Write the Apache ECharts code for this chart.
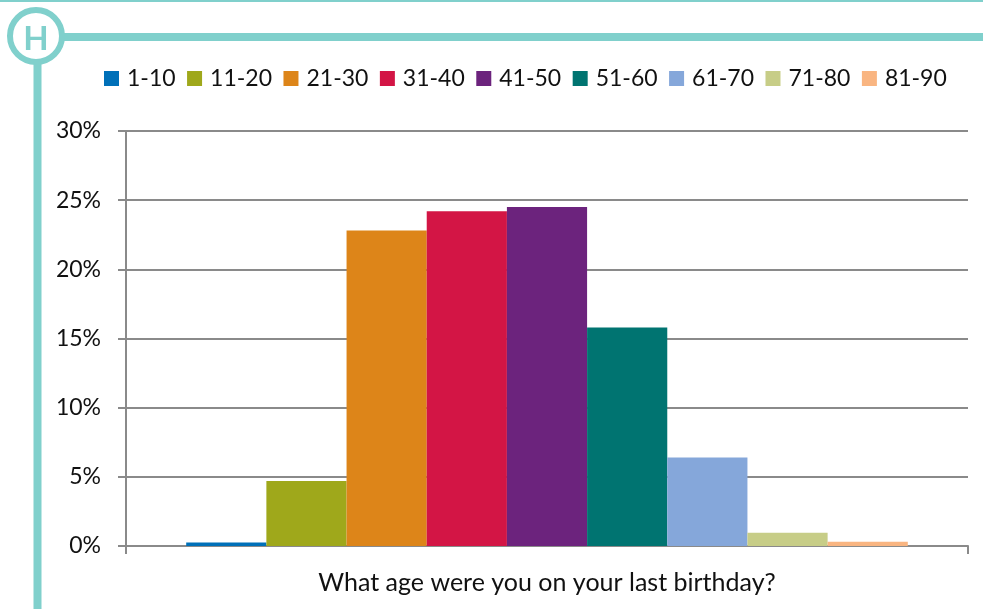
<!DOCTYPE html>
<html>
<head>
<meta charset="utf-8">
<script src="https://cdn.jsdelivr.net/npm/echarts@6/dist/echarts.min.js"></script>
<style>
html,body{margin:0;padding:0;background:#fff;}
#c{width:983px;height:609px;}
</style>
</head>
<body>
<div id="c"></div>
<script>
const ageGroups = ['1-10','11-20','21-30','31-40','41-50','51-60','61-70','71-80','81-90'];
const shares = [0.25, 4.7, 22.8, 24.2, 24.5, 15.8, 6.4, 0.95, 0.3];
const barColors = ['#0070b8','#9fa81b','#dd8519','#d31545','#6c237d','#007471','#85a7da','#c7cd87','#f9b581'];
const category = ['What age were you on your last birthday?'];
const yTicks = [0, 5, 10, 15, 20, 25, 30];

const teal = '#80d0cc';
const font = 'Lato';

const chart = echarts.init(document.getElementById('c'));
chart.setOption({
  animation: false,
  backgroundColor: '#fff',
  textStyle: {fontFamily: font},
  legend: {
    left: 99, top: 62,
    itemWidth: 15, itemHeight: 15, itemGap: 11.5,
    icon: 'rect',
    data: ageGroups,
    textStyle: {fontFamily: font, fontSize: 23, color: '#111', padding: [0,0,0,3]}
  },
  grid: {left: 126, right: 15, top: 131, bottom: 63, containLabel: false},
  xAxis: {
    type: 'category',
    data: category,
    axisLine: {lineStyle: {color: '#8a8a8a', width: 2}},
    axisTick: {show: true, length: 8, lineStyle: {color: '#8a8a8a', width: 2}},
    axisLabel: {fontFamily: font, fontSize: 25, color: '#111', margin: 24}
  },
  yAxis: {
    type: 'value',
    min: yTicks[0], max: yTicks[yTicks.length-1], interval: 5,
    axisLine: {show: true, lineStyle: {color: '#8a8a8a', width: 2}},
    axisTick: {show: true, length: 8, lineStyle: {color: '#8a8a8a', width: 2}},
    splitLine: {lineStyle: {color: '#8a8a8a', width: 2}},
    axisLabel: {fontFamily: font, fontSize: 23, color: '#111', margin: 25, formatter: '{value}%'}
  },
  series: ageGroups.map((name, i) => ({
    name: name,
    type: 'bar',
    data: [shares[i]],
    itemStyle: {color: barColors[i]},
    barGap: '0%',
    barCategoryGap: '14.3%'
  })),
  graphic: [
    {type: 'rect', shape: {x: 0, y: 0, width: 983, height: 2}, style: {fill: teal}, z: 10},
    {type: 'line', shape: {x1: 60, y1: 37, x2: 983, y2: 37}, style: {stroke: teal, lineWidth: 8}, z: 10},
    {type: 'line', shape: {x1: 37.5, y1: 60, x2: 37.5, y2: 609}, style: {stroke: teal, lineWidth: 8}, z: 10},
    {type: 'circle', shape: {cx: 36, cy: 36, r: 26}, style: {fill: '#fff', stroke: teal, lineWidth: 6}, z: 11},
    {type: 'text', x: 36, y: 39, style: {text: 'H', fill: teal, font: 'bold 33px Lato', align: 'center', verticalAlign: 'middle'}, z: 12}
  ]
});
</script>
</body>
</html>
